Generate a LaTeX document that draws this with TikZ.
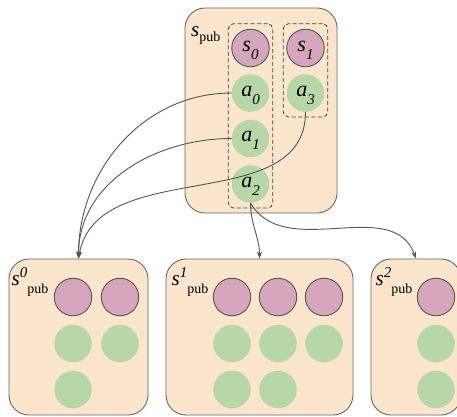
\documentclass[tikz,border=0pt]{standalone}
\usepackage{fontspec}
\setmainfont{Liberation Serif}
\usetikzlibrary{arrows.meta,fit}

\definecolor{peach}{HTML}{FCE5CD}
\definecolor{boxline}{HTML}{666666}
\definecolor{pinkfill}{HTML}{D5A6BD}
\definecolor{greenfill}{HTML}{B7D7A8}
\definecolor{linkgray}{HTML}{555555}

% italic letter with an italic index below it
\newcommand\lbl[2]{\raisebox{-2.5pt}[9pt][8pt]{\fontsize{22}{22}\selectfont\textit{#1}\raisebox{-8pt}{\fontsize{15}{15}\selectfont\textit{#2}}}}
% s with an optional superscript and the "pub" index
\newcommand\spub[1]{\fontsize{21}{21}\selectfont\textit{s}\raisebox{8pt}{\fontsize{15}{15}\selectfont\textit{#1}}\raisebox{-8pt}{\fontsize{14}{14}\selectfont pub}}

\tikzset{
  pubbox/.style={draw=boxline, fill=peach, line width=0.9pt, rounded corners=20pt, inner sep=0pt},
  scirc/.style={circle, draw=linkgray, fill=pinkfill, line width=0.9pt, minimum size=37.5pt, inner sep=0pt},
  acirc/.style={circle, fill=greenfill, minimum size=37.5pt, inner sep=0pt},
  group/.style={draw=black!75, dashed, dash pattern=on 4pt off 2.5pt, line width=0.8pt, rounded corners=5pt, inner xsep=3pt, inner ysep=5pt},
  boxlabel/.style={anchor=base west, inner sep=0pt},
  link/.style={draw=linkgray, line width=0.9pt, -{Stealth[length=7pt,width=5pt]}},
}

\begin{document}
\begin{tikzpicture}[x=1pt,y=1pt]
\useasboundingbox (0,0) rectangle (457,-416);
\clip (0,0) rectangle (457,-416);

% upper public state
\node[pubbox, minimum width=152pt, minimum height=205pt] (top) at (261,-110.5) {};
\node[boxlabel] (toplbl) at (191,-36.5) {\fontsize{21}{21}\selectfont\textit{s}\raisebox{-5pt}{\fontsize{14}{14}\selectfont pub}};

\node[scirc] (s0) at (250.5,-48) {\lbl{s}{0}};
\node[acirc] (a0) at (250.5,-93) {\lbl{a}{0}};
\node[acirc] (a1) at (250.5,-138.5) {\lbl{a}{1}};
\node[acirc] (a2) at (250.5,-184) {\lbl{a}{2}};
\node[scirc] (s1) at (305.5,-48) {\lbl{s}{1}};
\node[acirc] (a3) at (305.5,-93) {\lbl{a}{3}};

\node[group, fit=(s0)(a2)] (g0) {};
\node[group, fit=(s1)(a3)] (g1) {};

% successor public states
\node[pubbox, minimum width=139pt, minimum height=156pt] (b0) at (78.5,-337) {};
\node[pubbox, minimum width=187pt, minimum height=156pt] (b1) at (259.5,-337) {};
\node[pubbox, minimum width=90pt, minimum height=156pt] (b2) at (416,-337) {};

\node[boxlabel] (b0lbl) at (11.5,-285.5) {\spub{0}};
\node[boxlabel] (b1lbl) at (171.5,-285.5) {\spub{1}};
\node[boxlabel] (b2lbl) at (375.5,-285.5) {\spub{2}};

% state 0
\node[scirc] (p00) at (73,-297) {};
\node[scirc] (p01) at (120,-297) {};
\node[acirc] (q00) at (73,-343.5) {};
\node[acirc] (q01) at (120,-343.5) {};
\node[acirc] (q02) at (73,-389.5) {};

% state 1
\node[scirc] (p10) at (232,-297) {};
\node[scirc] (p11) at (278,-297) {};
\node[scirc] (p12) at (324,-297) {};
\node[acirc] (q10) at (232,-343.5) {};
\node[acirc] (q11) at (278,-343.5) {};
\node[acirc] (q12) at (324,-343.5) {};
\node[acirc] (q13) at (232,-389.5) {};
\node[acirc] (q14) at (278,-389.5) {};

% state 2
\node[scirc] (p20) at (436,-297) {};
\node[acirc] (q20) at (436,-343.5) {};
\node[acirc] (q21) at (436,-389.5) {};

% transitions
\draw[link] (a0.west) to[out=180,in=90] (b0.north);
\draw[link] (a1.west) to[out=180,in=90] (b0.north);
\draw[link] (a3.south) to[out=-90,in=80] (b0.north);
\draw[link] (a2.south) to[out=-90,in=90] (b1.north);
\draw[link] (a2.south) to[out=-60,in=110] (b2.north);
\end{tikzpicture}
\end{document}
